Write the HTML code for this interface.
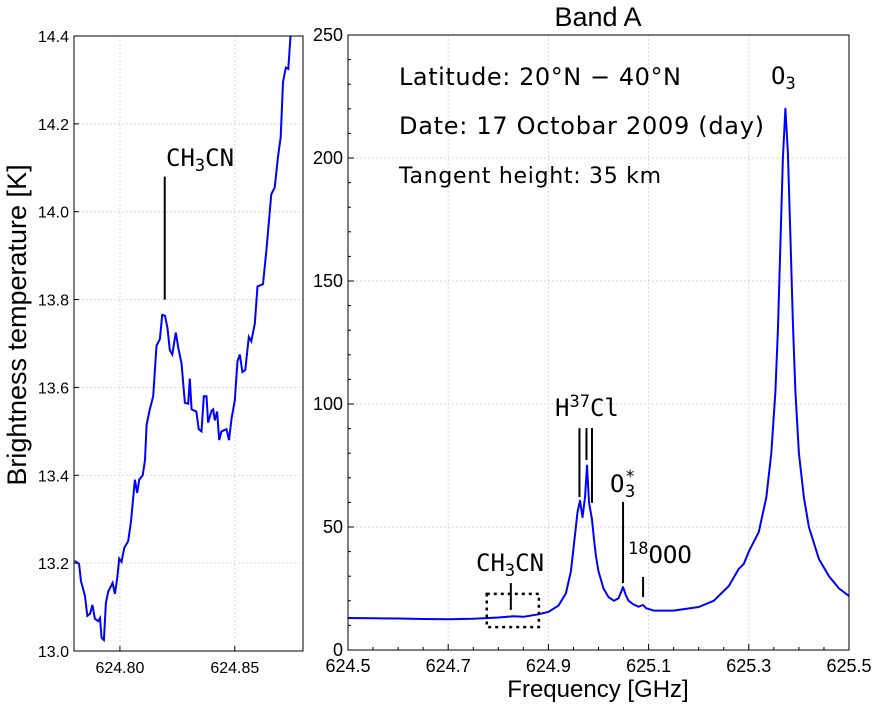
<!DOCTYPE html>
<html><head><meta charset="utf-8">
<style>
body{margin:0;background:#fff;}
svg{display:block;font-family:"Liberation Sans",sans-serif;}
.mono{font-family:"DejaVu Sans Mono","Liberation Mono",monospace;}
.dj{font-family:"DejaVu Sans","Liberation Sans",sans-serif;}
</style></head>
<body>
<svg id="chart" width="880" height="710" viewBox="0 0 880 710" xmlns="http://www.w3.org/2000/svg">
<g id="left"></g>
<g id="right"></g>
<text x="0" y="0" transform="translate(26,325) rotate(-90)" text-anchor="middle" font-size="27">Brightness temperature [K]</text>
<text x="598" y="697" text-anchor="middle" font-size="24">Frequency [GHz]</text>
<text x="598" y="26" text-anchor="middle" font-size="27">Band A</text>
<text class="dj" x="399" y="85" font-size="24" textLength="282">Latitude: 20°N − 40°N</text>
<text class="dj" x="399" y="134" font-size="24" textLength="365">Date: 17 Octobar 2009 (day)</text>
<text class="dj" x="399" y="183" font-size="22" textLength="262">Tangent height: 35 km</text>
</svg>
<script>
// Left zoom panel data
const leftFreq=[624.7804,624.7822,624.7830,624.7848,624.7858,624.7870,624.7880,624.7891,624.7906,624.7913,624.7920,624.7930,624.7939,624.7949,624.7968,624.7978,624.7988,624.7997,624.8007,624.8019,624.8036,624.8048,624.8065,624.8075,624.8084,624.8099,624.8109,624.8116,624.8130,624.8145,624.8159,624.8174,624.8184,624.8196,624.8207,624.8217,624.8228,624.8243,624.8254,624.8268,624.8283,624.8297,624.8304,624.8312,624.8333,624.8343,624.8355,624.8365,624.8377,624.8384,624.8399,624.8406,624.8413,624.8423,624.8432,624.8442,624.8464,624.8475,624.8486,624.8500,624.8512,624.8522,624.8533,624.8546,624.8561,624.8572,624.8587,624.8599,624.8623,624.8638,624.8649,624.8659,624.8674,624.8688,624.8700,624.8710,624.8722,624.8733,624.8745];
const leftTemp=[13.205,13.198,13.16,13.125,13.08,13.085,13.105,13.073,13.068,13.075,13.03,13.025,13.11,13.135,13.155,13.13,13.165,13.21,13.203,13.235,13.25,13.295,13.39,13.36,13.39,13.40,13.435,13.515,13.55,13.58,13.695,13.71,13.765,13.763,13.735,13.685,13.675,13.725,13.69,13.655,13.565,13.563,13.62,13.55,13.545,13.505,13.50,13.58,13.58,13.52,13.547,13.55,13.525,13.545,13.48,13.50,13.505,13.48,13.53,13.57,13.66,13.675,13.635,13.64,13.715,13.705,13.745,13.83,13.835,13.915,13.98,14.04,14.055,14.125,14.17,14.295,14.328,14.325,14.42];
const leftXTicks=[624.80,624.85];
const leftYTicks=[13.0,13.2,13.4,13.6,13.8,14.0,14.2,14.4];
// Right panel data
const rightFreq=[624.50,624.55,624.60,624.65,624.70,624.75,624.78,624.80,624.83,624.85,624.88,624.90,624.92,624.935,624.945,624.952,624.958,624.963,624.968,624.973,624.977,624.981,624.987,624.991,624.995,625.00,625.01,625.02,625.031,625.04,625.045,625.049,625.055,625.06,625.07,625.08,625.089,625.095,625.11,625.15,625.20,625.23,625.26,625.28,625.29,625.30,625.32,625.335,625.345,625.353,625.358,625.363,625.368,625.373,625.378,625.383,625.388,625.393,625.40,625.41,625.42,625.44,625.46,625.48,625.50];
const rightTemp=[13.0,12.9,12.8,12.6,12.5,12.7,13.0,13.2,13.7,13.5,14.5,15.5,18,23,32,45,56,60.7,54,62,75,60,53,45,38,32,25,21.5,20,21,23.5,25.6,22,20,18.5,17.6,18.3,17,16,16,17.5,20,26,33,35,40,48,62,80,105,130,165,200,220,202,168,133,105,80,62,50,37,30,25,22];
const rightXTicks=[624.5,624.7,624.9,625.1,625.3,625.5];
const rightXTickLabels=["624.5","624.7","624.9","625.1","625.3","625.5"];
const rightYTicks=[0,50,100,150,200,250];
// annotation marker lines [freq, tempFrom, tempTo]
const markerLines=[[624.962,90.2,62.2],[624.976,90.2,77.2],[624.987,90.2,59.8],[625.049,60.2,27.2],[625.089,29.7,21.5],[624.825,27.2,16.3]];
const boxRange=[624.777,624.881,9.3,22.8];
const leftMarker=[624.8195,14.08,13.80];

const NS="http://www.w3.org/2000/svg";
function mk(parent,tag,attrs){const e=document.createElementNS(NS,tag);for(const k in attrs)e.setAttribute(k,attrs[k]);parent.appendChild(e);return e;}
function panel(x0,x1,y0,y1,xmin,xmax,ymin,ymax){
  const sx=v=>x0+(v-xmin)/(xmax-xmin)*(x1-x0);
  const sy=v=>y1-(v-ymin)/(ymax-ymin)*(y1-y0);
  return {sx,sy};
}

// LEFT
(function(){
  const g=document.getElementById('left');
  const X0=74,X1=303,Y0=36,Y1=651;
  const {sx,sy}=panel(X0,X1,Y0,Y1,624.78,624.8797,13.0,14.4);
  leftXTicks.forEach(t=>{
    const l=mk(g,'line',{x1:sx(t),x2:sx(t),y1:Y0,y2:Y1,stroke:'#ccc','stroke-dasharray':'1.5,2.5','stroke-width':1});
    
    const tl=mk(g,'line',{x1:sx(t),x2:sx(t),y1:Y1,y2:Y1-5,stroke:'#000'});
    
    const tx=mk(g,'text',{x:sx(t),y:Y1+22,'text-anchor':'middle','font-size':16});
    tx.textContent=t.toFixed(2);
    
  });
  leftYTicks.forEach(t=>{
    if(t>13.0&&t<14.4){const l=mk(g,'line',{x1:X0,x2:X1,y1:sy(t),y2:sy(t),stroke:'#ccc','stroke-dasharray':'1.5,2.5','stroke-width':1});
    }
    const tl=mk(g,'line',{x1:X0,x2:X0+5,y1:sy(t),y2:sy(t),stroke:'#000'});
    
    const tx=mk(g,'text',{x:X0-5,y:sy(t)+6,'text-anchor':'end','font-size':16});
    tx.textContent=t.toFixed(1);
    
  });
  const cp=mk(g,'clipPath',{id:'clipL'});mk(cp,'rect',{x:X0,y:Y0,width:X1-X0,height:Y1-Y0});
  const d=leftFreq.map((f,i)=>(i?'L':'M')+sx(f).toFixed(1)+','+sy(leftTemp[i]).toFixed(1)).join('');
  const p=mk(g,'path',{d,fill:'none',stroke:'#0000ff','stroke-width':2,'clip-path':'url(#clipL)'});
  
  const m=mk(g,'line',{x1:sx(leftMarker[0]),x2:sx(leftMarker[0]),y1:sy(leftMarker[1]),y2:sy(leftMarker[2]),stroke:'#000','stroke-width':2});
  
  const t=mk(g,'text',{x:166,y:166,'font-size':24,class:'mono'});
  t.innerHTML='CH<tspan font-size="17" dy="5">3</tspan><tspan dy="-5">CN</tspan>';
  
  const f=mk(g,'rect',{x:X0,y:Y0,width:X1-X0,height:Y1-Y0,fill:'none',stroke:'#000','stroke-width':1});
  
})();

// RIGHT
(function(){
  const g=document.getElementById('right');
  const X0=348,X1=849,Y0=35,Y1=650;
  const {sx,sy}=panel(X0,X1,Y0,Y1,624.5,625.5,0,250);
  rightXTicks.forEach((t,i)=>{
    if(i>0&&i<rightXTicks.length-1){const l=mk(g,'line',{x1:sx(t),x2:sx(t),y1:Y0,y2:Y1,stroke:'#ccc','stroke-dasharray':'1.5,2.5','stroke-width':1});
    }
    const tl=mk(g,'line',{x1:sx(t),x2:sx(t),y1:Y1,y2:Y1-6,stroke:'#000'});
    
    const tx=mk(g,'text',{x:sx(t),y:Y1+22,'text-anchor':'middle','font-size':18});
    tx.textContent=rightXTickLabels[i];
    
  });
  for(let k=1;k<20;k++){const v=624.5+k*0.05;if(k%4===0)continue;
    const tl=mk(g,'line',{x1:sx(v),x2:sx(v),y1:Y1,y2:Y1-3,stroke:'#000'});
    }
  rightYTicks.forEach(t=>{
    if(t>0&&t<250){const l=mk(g,'line',{x1:X0,x2:X1,y1:sy(t),y2:sy(t),stroke:'#ccc','stroke-dasharray':'1.5,2.5','stroke-width':1});
    }
    const tl=mk(g,'line',{x1:X0,x2:X0+6,y1:sy(t),y2:sy(t),stroke:'#000'});
    
    const tx=mk(g,'text',{x:X0-5,y:sy(t)+6,'text-anchor':'end','font-size':18});
    tx.textContent=String(t);
    
  });
  for(let v=10;v<250;v+=10){if(v%50===0)continue;
    const tl=mk(g,'line',{x1:X0,x2:X0+3,y1:sy(v),y2:sy(v),stroke:'#000'});
    }
  const d=rightFreq.map((f,i)=>(i?'L':'M')+sx(f).toFixed(1)+','+sy(rightTemp[i]).toFixed(1)).join('');
  const p=mk(g,'path',{d,fill:'none',stroke:'#0000ff','stroke-width':2,'stroke-linejoin':'round'});
  
  markerLines.forEach(m=>{
    const l=mk(g,'line',{x1:sx(m[0]),x2:sx(m[0]),y1:sy(m[1]),y2:sy(m[2]),stroke:'#000','stroke-width':2});
    
  });
  const b=mk(g,'rect',{x:sx(boxRange[0]),y:sy(boxRange[3]),width:sx(boxRange[1])-sx(boxRange[0]),height:sy(boxRange[2])-sy(boxRange[3]),fill:'none',stroke:'#000','stroke-width':2.5,'stroke-dasharray':'3,4'});
  
  const labels=[
    ['h37cl-label',555,416,'H<tspan font-size="17" dy="-9">37</tspan><tspan dy="9">Cl</tspan>'],
    ['18ooo-label',628,563,'<tspan font-size="17" dy="-9">18</tspan><tspan dy="9">OOO</tspan>'],
    ['ch3cn-right-label',476,571,'CH<tspan font-size="17" dy="5">3</tspan><tspan dy="-5">CN</tspan>'],
    ['o3-label',771,84,'O<tspan font-size="17" dy="5">3</tspan>']
  ];
  labels.forEach(L=>{
    const t=mk(g,'text',{x:L[1],y:L[2],'font-size':24,class:'mono'});
    t.innerHTML=L[3];
    
  });
  const o=mk(g,'text',{x:610,y:492,'font-size':24,class:'mono'});
  o.textContent='O';
  
  const o2=mk(g,'text',{x:625,y:497,'font-size':17,class:'mono'});
  o2.textContent='3';
  
  const o3=mk(g,'text',{x:625,y:482,'font-size':17,class:'mono'});
  o3.textContent='*';
  
  const f=mk(g,'rect',{x:X0,y:Y0,width:X1-X0,height:Y1-Y0,fill:'none',stroke:'#000','stroke-width':1});
  
})();
</script>
</body></html>
